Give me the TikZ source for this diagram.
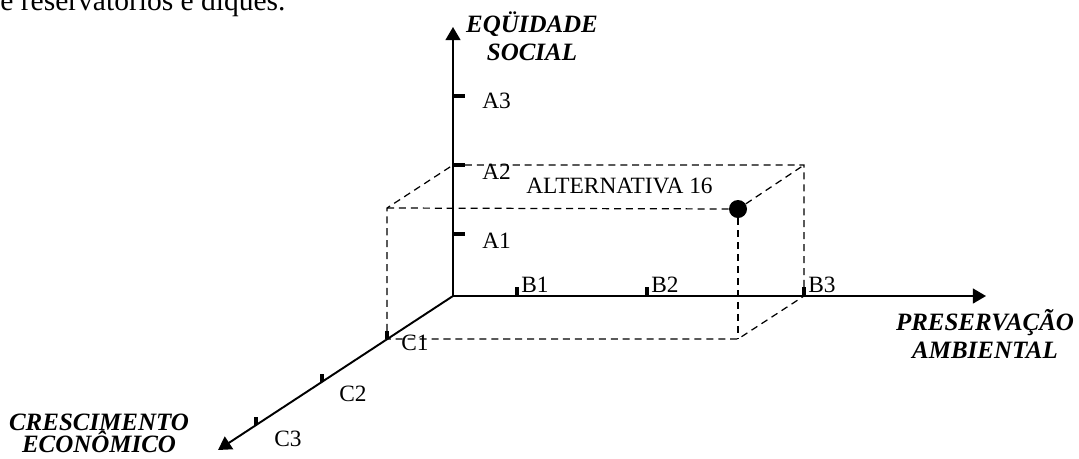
\documentclass[tikz,border=0pt]{standalone}
\usepackage{fontspec}
\setmainfont{Liberation Serif}
\usetikzlibrary{arrows.meta}

\tikzset{
  axis/.style={line width=1.1pt, -{Triangle[length=7.5pt,width=8.5pt]}},
  tickmark/.style={line width=2.3pt},
  guide/.style={dash pattern=on 4pt off 2.8pt, line width=0.7pt},
  ticklabel/.style={anchor=base west, inner sep=0pt, font=\fontsize{13.3}{15}\selectfont},
  axislabel/.style={anchor=base, align=center, inner sep=0pt, font=\fontsize{14.2}{15.9}\selectfont\bfseries\itshape},
}

\begin{document}
\begin{tikzpicture}[x=0.02cm, y=-0.02cm]
    \clip (0,0) rectangle (1079,458);

    % Line of text above the figure
    \node[anchor=base west, inner sep=0pt, font=\fontsize{16.8}{20}\selectfont] (prevline) at (0,10) {e reservatórios e diques.};

    % Origin and axis ends
    \coordinate (O) at (453,296);
    \coordinate (eqtip) at (453,27);
    \coordinate (prtip) at (986,296);
    \coordinate (crtip) at (218,450);

    % Axes
    \draw[axis] (O) -- (eqtip);
    \draw[axis] (O) -- (prtip);
    \draw[axis] (O) -- (crtip);

    % Axis titles (base = last line)
    \node[axislabel] (eqlabel) at (532,60) {EQÜIDADE\\SOCIAL};
    \node[axislabel] (prlabel) at (985,358) {PRESERVAÇÃO\\AMBIENTAL};
    \node[axislabel] (crlabel) at (99,452) {CRESCIMENTO\\[-3.6pt]ECONÔMICO};

    % Levels on the vertical axis
    \coordinate (A1) at (453,234);
    \coordinate (A2) at (453,165);
    \coordinate (A3) at (453,96);
    \foreach \a/\yb in {A1/248, A2/179, A3/108} {
        \draw[tickmark] (\a) -- ++(12,0);
        \node[ticklabel] (lab\a) at (482,\yb) {\a};
    }

    % Levels on the horizontal axis
    \coordinate (B1) at (517,296);
    \coordinate (B2) at (647,296);
    \coordinate (B3) at (804,296);
    \foreach \b/\xb in {B1/521, B2/651, B3/808} {
        \draw[tickmark] (\b) -- ++(0,-9);
        \node[ticklabel] (lab\b) at (\xb,292) {\b};
    }

    % Levels on the oblique axis
    \coordinate (C1) at (387,339);
    \coordinate (C2) at (322,382);
    \coordinate (C3) at (256,425);
    \foreach \c/\xc/\yc in {C1/401/350, C2/339/401, C3/274/446} {
        \draw[tickmark] (\c) -- ++(0,-8);
        \node[ticklabel] (lab\c) at (\xc,\yc) {\c};
    }

    % Box of the alternative
    \coordinate (backtop) at (804,165);
    \coordinate (fronttl) at (387,208);
    \coordinate (frontbr) at (738,339);
    \node[circle, fill, inner sep=0pt, minimum size=0.36cm] (alt) at (738,209) {};
    \draw[guide] (A2) -- (backtop) -- (B3) -- (frontbr) -- (C1) -- (fronttl) -- (A2);
    \draw[guide] (fronttl) -- (alt) -- (backtop);
    \draw[guide] (alt) -- (frontbr);
    \node[ticklabel] (altlabel) at (526,193) {ALTERNATIVA 16};
\end{tikzpicture}
\end{document}
